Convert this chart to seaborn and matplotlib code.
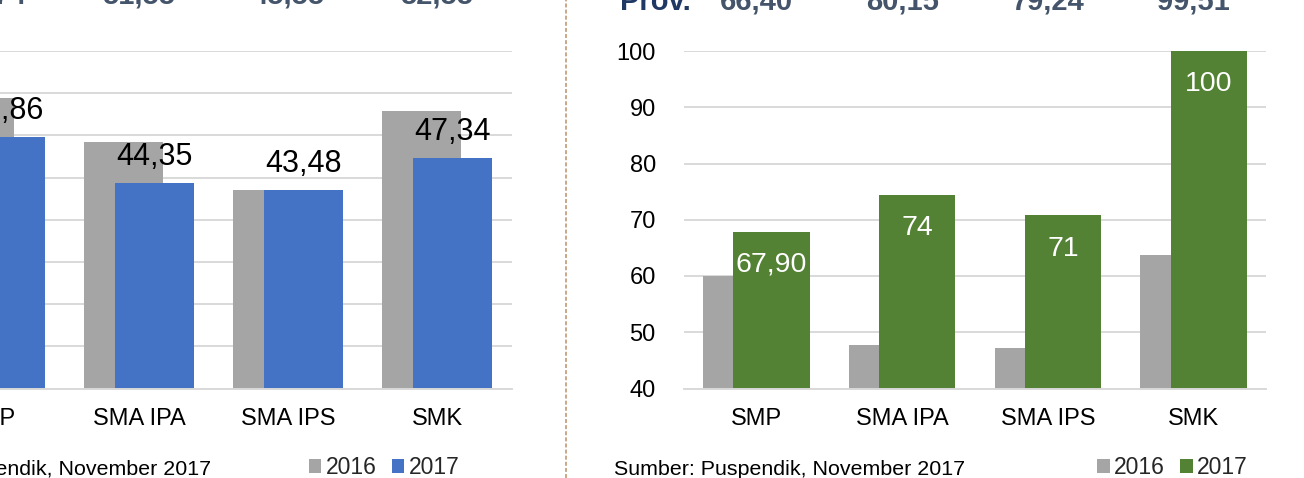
import numpy as np
import pandas as pd
import matplotlib
matplotlib.use("Agg")
import matplotlib.pyplot as plt
import seaborn as sns
from matplotlib.patches import Patch
from matplotlib.lines import Line2D
from matplotlib.transforms import blended_transform_factory

# ---------------- data ----------------
categories = ["SMP", "SMA IPA", "SMA IPS", "SMK"]
years = ["2016", "2017"]

left_2016 = [54.4, 49.2, 43.5, 52.9]
left_2017 = [49.86, 44.35, 43.48, 47.34]
left_labels_2017 = ["49,86", "44,35", "43,48", "47,34"]
left_top_values = ["54,74", "51,55", "45,55", "52,55"]
left_yticks = [20, 25, 30, 35, 40, 45, 50, 55, 60]

right_2016 = [60.0, 47.8, 47.2, 63.8]
right_2017 = [67.90, 74.4, 70.8, 100.0]
right_labels_2017 = ["67,90", "74", "71", "100"]
right_top_values = ["66,40", "80,15", "79,24", "99,51"]
right_top_caption = "Prov."
right_yticks = [40, 50, 60, 70, 80, 90, 100]

source_text = "Sumber: Puspendik, November 2017"

# ---------------- style ----------------
GRAY = "#A5A5A5"
BLUE = "#4472C4"
GREEN = "#548235"
GRID = "#D9D9D9"
TOPCOL = "#44546A"
NAVY = "#203864"

sns.set_theme(style="white")
plt.rcParams["font.family"] = ["Liberation Sans", "DejaVu Sans"]

W, H = 1304, 478
fig = plt.figure(figsize=(W / 100, H / 100), dpi=100)
fig.patch.set_facecolor("white")

def px_rect(x0, x1, ytop, ybot):
    return [x0 / W, 1 - ybot / H, (x1 - x0) / W, (ybot - ytop) / H]

ax_l = fig.add_axes(px_rect(-84.5, 511.5, 51, 388.5))
ax_r = fig.add_axes(px_rect(683.6, 1266.4, 51, 388.5))


def draw_panel(ax, v16, v17, c17, ylim, yticks):
    df = pd.DataFrame({
        "cat": categories * 2,
        "year": [years[0]] * len(categories) + [years[1]] * len(categories),
        "value": list(v16) + list(v17),
    })
    sns.barplot(data=df, x="cat", y="value", hue="year", hue_order=years,
                palette=[GRAY, c17], width=0.416, gap=-1.52, saturation=1,
                linewidth=0, errorbar=None, legend=False, ax=ax)
    ax.set_xlim(-0.5, len(categories) - 0.5)
    ax.set_ylim(*ylim)
    ax.set_yticks(yticks)
    ax.set_xlabel("")
    ax.set_ylabel("")
    ax.set_axisbelow(True)
    ax.yaxis.grid(True, color=GRID, lw=1.4)
    ax.xaxis.grid(False)
    for s in ["top", "right", "left"]:
        ax.spines[s].set_visible(False)
    ax.spines["bottom"].set_color(GRID)
    ax.spines["bottom"].set_linewidth(1.4)
    ax.tick_params(axis="both", length=0, labelsize=17, labelcolor="black")
    ax.tick_params(axis="y", pad=20)
    ax.tick_params(axis="x", pad=14)
    ax.set_facecolor("white")


draw_panel(ax_l, left_2016, left_2017, BLUE, (20, 60), left_yticks)
draw_panel(ax_r, right_2016, right_2017, GREEN, (40, 100), right_yticks)
# the left panel's value axis lies beyond the cropped left edge
ax_l.tick_params(axis="y", labelleft=False)

# data labels
txts = ax_l.bar_label(ax_l.containers[1], labels=left_labels_2017, padding=13,
                      fontsize=22, color="black")
for t in txts:
    t.set_va("baseline")
txts = ax_r.bar_label(ax_r.containers[1], labels=right_labels_2017, padding=-29,
                      fontsize=20.5, color="white")
for t in txts:
    t.set_va("baseline")

# top row values (partly cut by the figure edge, as in the reference crop)
tr_l = blended_transform_factory(ax_l.transData, fig.transFigure)
for i, s in enumerate(left_top_values):
    ax_l.text(i, 1 - 3.5 / H, s, transform=tr_l, ha="center", va="baseline",
              fontsize=21, fontweight="bold", color=TOPCOL, clip_on=False)
tr_r = blended_transform_factory(ax_r.transData, fig.transFigure)
for i, s in enumerate(right_top_values):
    ax_r.text(i, 1 - 9.5 / H, s, transform=tr_r, ha="center", va="baseline",
              fontsize=21, fontweight="bold", color=TOPCOL, clip_on=False)
fig.text(620 / W, 1 - 9.5 / H, right_top_caption, ha="left", va="baseline",
         fontsize=21, fontweight="bold", color=NAVY)

# source notes
fig.text(211 / W, 1 - 475 / H, source_text, ha="right", va="baseline",
         fontsize=15.4, color="black")
fig.text(614 / W, 1 - 475 / H, source_text, ha="left", va="baseline",
         fontsize=15.4, color="black")

# legends
def add_legend(c17, xc):
    handles = [Patch(facecolor=GRAY, edgecolor="none", label=years[0]),
               Patch(facecolor=c17, edgecolor="none", label=years[1])]
    fig.legend(handles=handles, loc="center", bbox_to_anchor=(xc / W, 1 - 468 / H),
               ncol=2, frameon=False, fontsize=16.5, handlelength=0.55,
               handleheight=0.55, handletextpad=0.2, columnspacing=0.65,
               borderpad=0, borderaxespad=0)

add_legend(BLUE, 384)
add_legend(GREEN, 1172.5)

# dashed separator
fig.add_artist(Line2D([566 / W, 566 / W], [0, 1], transform=fig.transFigure,
                      color="#BF8F6A", lw=1.1, ls=(0, (2.6, 1.4))))

fig.savefig("out.png", dpi=100, facecolor="white")
